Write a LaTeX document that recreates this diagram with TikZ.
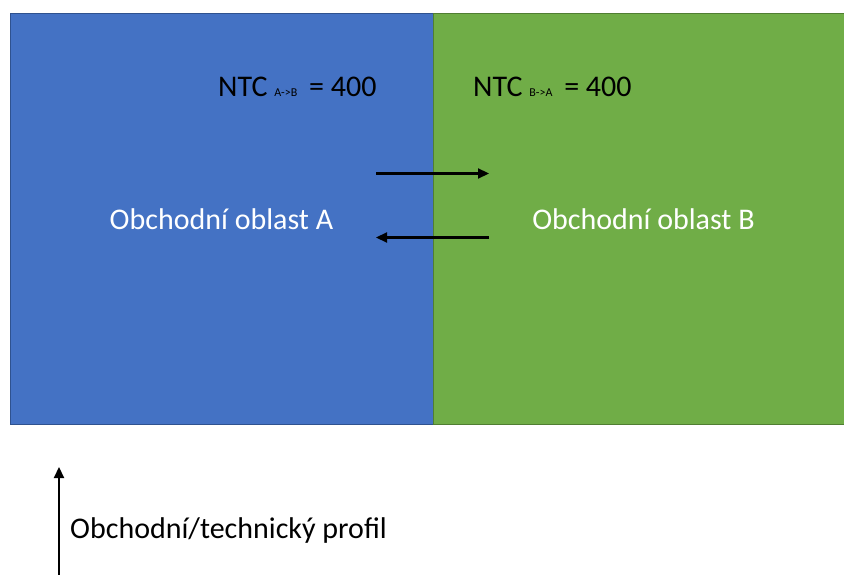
\documentclass[tikz,border=0pt]{standalone}
\usepackage{fontspec}
\setmainfont{Carlito}
\usetikzlibrary{arrows.meta}
\definecolor{blueA}{HTML}{4472C4}
\definecolor{blueAb}{HTML}{2F528F}
\definecolor{greenB}{HTML}{70AD47}
\definecolor{greenBb}{HTML}{507E32}
\tikzset{
  area/.style={draw, line width=1pt, inner sep=0pt, anchor=north west},
  lbl/.style={font=\fontsize{30}{34}\selectfont, inner sep=0pt},
  ntc/.style={font=\fontsize{30}{34}\selectfont, inner sep=0pt, text=black},
  flow/.style={-{Triangle[length=11pt,width=10pt]}, line width=2.2pt, black}
}
\begin{document}
\begin{tikzpicture}[x=1pt,y=-1pt]
\useasboundingbox (0,0) rectangle (844,575);
\fill[white] (0,0) rectangle (844,575);
\node[area, fill=blueA, draw=blueAb, minimum width=423pt, minimum height=411pt] (A) at (10,13) {};
\node[area, fill=greenB, draw=greenBb, minimum width=411pt, minimum height=411pt] (B) at (433,13) {};
\node[ntc, anchor=base west] (ntcA) at (218,97) {NTC {\fontsize{12}{14}\selectfont A->B}\, = 400};
\node[ntc, anchor=base west] (ntcB) at (473,97) {NTC {\fontsize{12}{14}\selectfont B->A}\, = 400};
\node[lbl, text=white] (la) at (221.5,219) {Obchodní oblast A};
\node[lbl, text=white] (lb) at (643.5,219) {Obchodní oblast B};
\coordinate (r1) at (376,173.5);
\coordinate (r2) at (489,173.5);
\coordinate (l1) at (489,237.5);
\coordinate (l2) at (376,237.5);
\draw[flow] (r1) -- (r2);
\draw[flow] (l1) -- (l2);
\coordinate (p1) at (59,575);
\coordinate (p2) at (59,467);
\draw[flow] (p1) -- (p2);
\node[lbl, anchor=west, text=black] (prof) at (70,530) {Obchodní/technický profil};
\end{tikzpicture}
\end{document}
